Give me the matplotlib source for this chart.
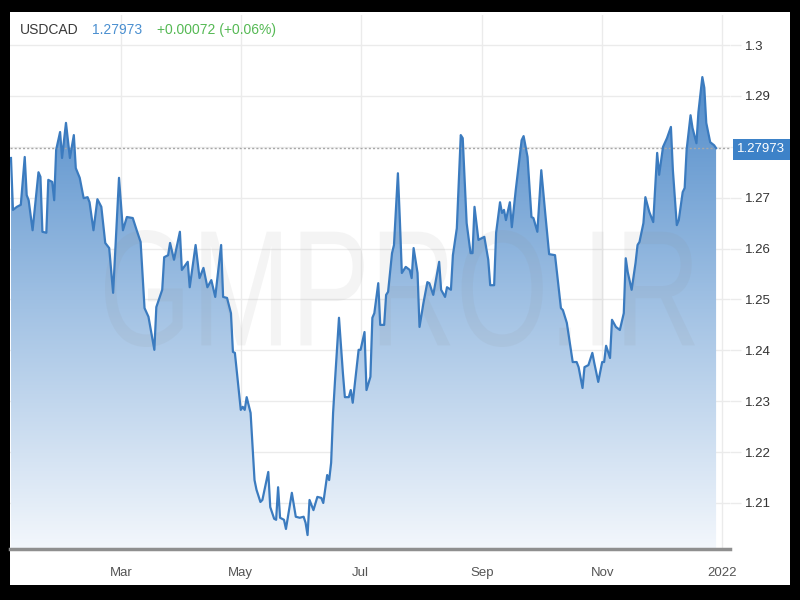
import numpy as np
import pandas as pd
import matplotlib
matplotlib.use("Agg")
import matplotlib.pyplot as plt
import matplotlib.dates as mdates
from matplotlib.colors import LinearSegmentedColormap
from matplotlib.textpath import TextPath
from matplotlib.patches import PathPatch, Rectangle
from matplotlib.font_manager import FontProperties
from matplotlib.transforms import Affine2D

# ---------------- data ----------------
symbol = "USDCAD"
last_price = 1.27973
last_price_text = "1.27973"
change_text = "+0.00072 (+0.06%)"
watermark = "GMPRO.IR"

dates = [
    "2021-01-04", "2021-01-05", "2021-01-07", "2021-01-09", "2021-01-11", "2021-01-12",
    "2021-01-13", "2021-01-15", "2021-01-18", "2021-01-19", "2021-01-20", "2021-01-22",
    "2021-01-23", "2021-01-25", "2021-01-26", "2021-01-27", "2021-01-29", "2021-01-30",
    "2021-02-01", "2021-02-03", "2021-02-05", "2021-02-06", "2021-02-08", "2021-02-10",
    "2021-02-12", "2021-02-13", "2021-02-15", "2021-02-17", "2021-02-19", "2021-02-21",
    "2021-02-23", "2021-02-25", "2021-02-28", "2021-03-02", "2021-03-04", "2021-03-07",
    "2021-03-09", "2021-03-11", "2021-03-13", "2021-03-15", "2021-03-18", "2021-03-19",
    "2021-03-22", "2021-03-23", "2021-03-25", "2021-03-26", "2021-03-28", "2021-03-31",
    "2021-04-01", "2021-04-04", "2021-04-05", "2021-04-08", "2021-04-10", "2021-04-12",
    "2021-04-14", "2021-04-16", "2021-04-18", "2021-04-21", "2021-04-22", "2021-04-24",
    "2021-04-26", "2021-04-27", "2021-04-28", "2021-05-01", "2021-05-02", "2021-05-03",
    "2021-05-04", "2021-05-06", "2021-05-08", "2021-05-09", "2021-05-11", "2021-05-12",
    "2021-05-15", "2021-05-16", "2021-05-18", "2021-05-19", "2021-05-20", "2021-05-21",
    "2021-05-23", "2021-05-24", "2021-05-27", "2021-05-29", "2021-05-31", "2021-06-02",
    "2021-06-03", "2021-06-04", "2021-06-05", "2021-06-07", "2021-06-09", "2021-06-11",
    "2021-06-12", "2021-06-14", "2021-06-15", "2021-06-16", "2021-06-17", "2021-06-18",
    "2021-06-20", "2021-06-22", "2021-06-23", "2021-06-25", "2021-06-26", "2021-06-27",
    "2021-06-30", "2021-07-01", "2021-07-03", "2021-07-04", "2021-07-06", "2021-07-07",
    "2021-07-08", "2021-07-10", "2021-07-11", "2021-07-13", "2021-07-14", "2021-07-15",
    "2021-07-17", "2021-07-18", "2021-07-20", "2021-07-21", "2021-07-22", "2021-07-24",
    "2021-07-26", "2021-07-27", "2021-07-28", "2021-07-30", "2021-07-31", "2021-08-02",
    "2021-08-04", "2021-08-05", "2021-08-07", "2021-08-10", "2021-08-11", "2021-08-13",
    "2021-08-14", "2021-08-16", "2021-08-17", "2021-08-19", "2021-08-21", "2021-08-22",
    "2021-08-24", "2021-08-26", "2021-08-27", "2021-08-28", "2021-08-30", "2021-09-01",
    "2021-09-02", "2021-09-04", "2021-09-05", "2021-09-07", "2021-09-08", "2021-09-10",
    "2021-09-11", "2021-09-12", "2021-09-13", "2021-09-15", "2021-09-16", "2021-09-18",
    "2021-09-21", "2021-09-22", "2021-09-24", "2021-09-26", "2021-09-27", "2021-09-29",
    "2021-10-01", "2021-10-03", "2021-10-05", "2021-10-08", "2021-10-11", "2021-10-12",
    "2021-10-14", "2021-10-17", "2021-10-19", "2021-10-20", "2021-10-22", "2021-10-23",
    "2021-10-25", "2021-10-27", "2021-10-28", "2021-10-30", "2021-11-01", "2021-11-02",
    "2021-11-03", "2021-11-05", "2021-11-06", "2021-11-08", "2021-11-10", "2021-11-12",
    "2021-11-13", "2021-11-14", "2021-11-16", "2021-11-18", "2021-11-19", "2021-11-20",
    "2021-11-22", "2021-11-23", "2021-11-25", "2021-11-27", "2021-11-29", "2021-11-30",
    "2021-12-02", "2021-12-04", "2021-12-06", "2021-12-07", "2021-12-09", "2021-12-10",
    "2021-12-12", "2021-12-13", "2021-12-14", "2021-12-16", "2021-12-17", "2021-12-19",
    "2021-12-20", "2021-12-22", "2021-12-23", "2021-12-24", "2021-12-26", "2021-12-28",
    "2021-12-29",
]

values = [
    1.2778, 1.2676, 1.2682, 1.2686, 1.2780, 1.2705,
    1.2695, 1.2636, 1.2750, 1.2741, 1.2633, 1.2631,
    1.2735, 1.2731, 1.2695, 1.2794, 1.2829, 1.2778,
    1.2847, 1.2778, 1.2823, 1.2758, 1.2739, 1.2699,
    1.2701, 1.2691, 1.2636, 1.2697, 1.2682, 1.2611,
    1.2601, 1.2513, 1.2739, 1.2636, 1.2662, 1.2660,
    1.2636, 1.2613, 1.2483, 1.2466, 1.2401, 1.2485,
    1.2519, 1.2583, 1.2587, 1.2611, 1.2578, 1.2633,
    1.2558, 1.2574, 1.2524, 1.2607, 1.2542, 1.2562,
    1.2524, 1.2538, 1.2505, 1.2607, 1.2505, 1.2503,
    1.2473, 1.2397, 1.2395, 1.2283, 1.2289, 1.2283,
    1.2308, 1.2277, 1.2145, 1.2126, 1.2102, 1.2106,
    1.2161, 1.2092, 1.2069, 1.2067, 1.2131, 1.2071,
    1.2067, 1.2049, 1.2120, 1.2073, 1.2071, 1.2073,
    1.2061, 1.2037, 1.2106, 1.2086, 1.2112, 1.2110,
    1.2100, 1.2155, 1.2145, 1.2179, 1.2277, 1.2342,
    1.2464, 1.2355, 1.2308, 1.2308, 1.2322, 1.2297,
    1.2401, 1.2401, 1.2436, 1.2322, 1.2348, 1.2464,
    1.2473, 1.2532, 1.2450, 1.2450, 1.2509, 1.2515,
    1.2591, 1.2607, 1.2748, 1.2656, 1.2552, 1.2564,
    1.2558, 1.2542, 1.2601, 1.2552, 1.2446, 1.2493,
    1.2534, 1.2532, 1.2509, 1.2574, 1.2519, 1.2505,
    1.2524, 1.2519, 1.2587, 1.2640, 1.2823, 1.2817,
    1.2650, 1.2591, 1.2591, 1.2682, 1.2617, 1.2621,
    1.2623, 1.2578, 1.2528, 1.2528, 1.2631, 1.2691,
    1.2670, 1.2676, 1.2656, 1.2691, 1.2642, 1.2715,
    1.2813, 1.2821, 1.2780, 1.2662, 1.2660, 1.2633,
    1.2754, 1.2670, 1.2589, 1.2587, 1.2483, 1.2479,
    1.2454, 1.2377, 1.2377, 1.2367, 1.2326, 1.2367,
    1.2371, 1.2395, 1.2375, 1.2338, 1.2377, 1.2377,
    1.2409, 1.2385, 1.2460, 1.2446, 1.2440, 1.2473,
    1.2581, 1.2554, 1.2519, 1.2572, 1.2607, 1.2613,
    1.2650, 1.2701, 1.2672, 1.2652, 1.2788, 1.2745,
    1.2800, 1.2817, 1.2839, 1.2754, 1.2646, 1.2656,
    1.2711, 1.2719, 1.2794, 1.2862, 1.2837, 1.2807,
    1.2868, 1.2937, 1.2916, 1.2847, 1.2809, 1.2803,
    1.27973,
]

y_ticks = [1.21, 1.22, 1.23, 1.24, 1.25, 1.26, 1.27, 1.28, 1.29, 1.30]
y_tick_labels = ["1.21", "1.22", "1.23", "1.24", "1.25", "1.26", "1.27", "", "1.29", "1.3"]
x_tick_dates = ["2021-03-01", "2021-05-01", "2021-07-01", "2021-09-01", "2021-11-01", "2022-01-01"]
x_tick_labels = ["Mar", "May", "Jul", "Sep", "Nov", "2022"]

# ---------------- styling ----------------
FONT = "Liberation Sans"
plt.rcParams["font.family"] = [FONT, "DejaVu Sans"]
LINE_COLOR = "#3b7bbf"
GRID_COLOR = "#ebebeb"

W, H = 800, 600
fig = plt.figure(figsize=(W / 100, H / 100), dpi=100)
fig.patch.set_facecolor("black")

# white panel inside black frame
fig.add_artist(Rectangle((10 / W, 15 / H), 780 / W, 573 / H, transform=fig.transFigure,
                         facecolor="white", edgecolor="none", zorder=0))

ax_left, ax_right = 10, 730
ax_top, ax_bottom = 15, 549
ax = fig.add_axes([ax_left / W, (H - ax_bottom) / H, (ax_right - ax_left) / W,
                   (ax_bottom - ax_top) / H])
ax.set_facecolor("white")

x = mdates.date2num(pd.to_datetime(dates))
y = np.array(values)

ylo, yhi = 1.20096, 1.30590
xlo = mdates.date2num(pd.Timestamp("2021-01-03 12:00"))
xhi = mdates.date2num(pd.Timestamp("2022-01-05 02:00"))

# gradient fill under the line
cmap = LinearSegmentedColormap.from_list(
    "g", [(0.0, "#f3f7fc"), (0.45, "#a2c2e4"), (1.0, "#3d7ec3")])
poly = ax.fill_between(x, y, ylo, facecolor="none", edgecolor="none")
grad = np.linspace(0, 1, 256).reshape(-1, 1)
im = ax.imshow(grad, cmap=cmap, aspect="auto", origin="lower",
               extent=[xlo, xhi, ylo, yhi], zorder=1, interpolation="bicubic")
im.set_clip_path(poly.get_paths()[0], transform=ax.transData)

ax.plot(x, y, color=LINE_COLOR, lw=1.6, zorder=4, solid_joinstyle="round")

# last price dotted line
ax.axhline(last_price, color="#a8a8a8", lw=1.0, ls=(0, (1.5, 1.5)), zorder=3)

ax.set_xlim(xlo, xhi)
ax.set_ylim(ylo, yhi)

# grid / ticks
ax.set_yticks(y_ticks)
ax.set_yticklabels(y_tick_labels)
ax.yaxis.tick_right()
ax.tick_params(axis="y", length=8, color=GRID_COLOR, width=1, pad=3,
               labelsize=9.5, labelcolor="#333333")
ax.set_xticks(mdates.date2num(pd.to_datetime(x_tick_dates)))
ax.set_xticklabels(x_tick_labels)
ax.tick_params(axis="x", length=0, pad=13, labelsize=9.5, labelcolor="#555555")
ax.grid(True, color=GRID_COLOR, lw=1, zorder=0)
ax.set_axisbelow(True)
for s in ["top", "left", "right"]:
    ax.spines[s].set_visible(False)
ax.spines["bottom"].set_color("#8f8f8f")
ax.spines["bottom"].set_linewidth(2.5)

# watermark
tp = TextPath((0, 0), watermark, size=100, prop=FontProperties(family=FONT))
bb = tp.get_extents()
wx0, wx1 = 105 / W, 695 / W
wy0, wy1 = (H - 347) / H, (H - 230) / H
tr = (Affine2D().translate(-bb.x0, -bb.y0)
      .scale((wx1 - wx0) / bb.width, (wy1 - wy0) / bb.height)
      .translate(wx0, wy0) + fig.transFigure)
wm = PathPatch(tp, transform=tr, facecolor="#8a8a8a", edgecolor="none",
               alpha=0.09, zorder=2)
ax.add_artist(wm)

# header
hy = 1 - 30 / H
fig.text(20 / W, hy, symbol, color="#3a3a3a", fontsize=10, va="center", ha="left")
fig.text(92 / W, hy, last_price_text, color="#4a8fd0", fontsize=10, va="center", ha="left")
fig.text(157 / W, hy, change_text, color="#55b954", fontsize=10, va="center", ha="left")

# last price label box
fig.add_artist(Rectangle((733 / W, (H - 160) / H), 57 / W, 21 / H, transform=fig.transFigure,
                         facecolor="#3d82c8", edgecolor="none", zorder=10))
fig.text(737 / W, (H - 149.5) / H, last_price_text, color="white", fontsize=9.5,
         va="center", ha="left", zorder=11)

fig.savefig("out.png", dpi=100, facecolor=fig.get_facecolor())
